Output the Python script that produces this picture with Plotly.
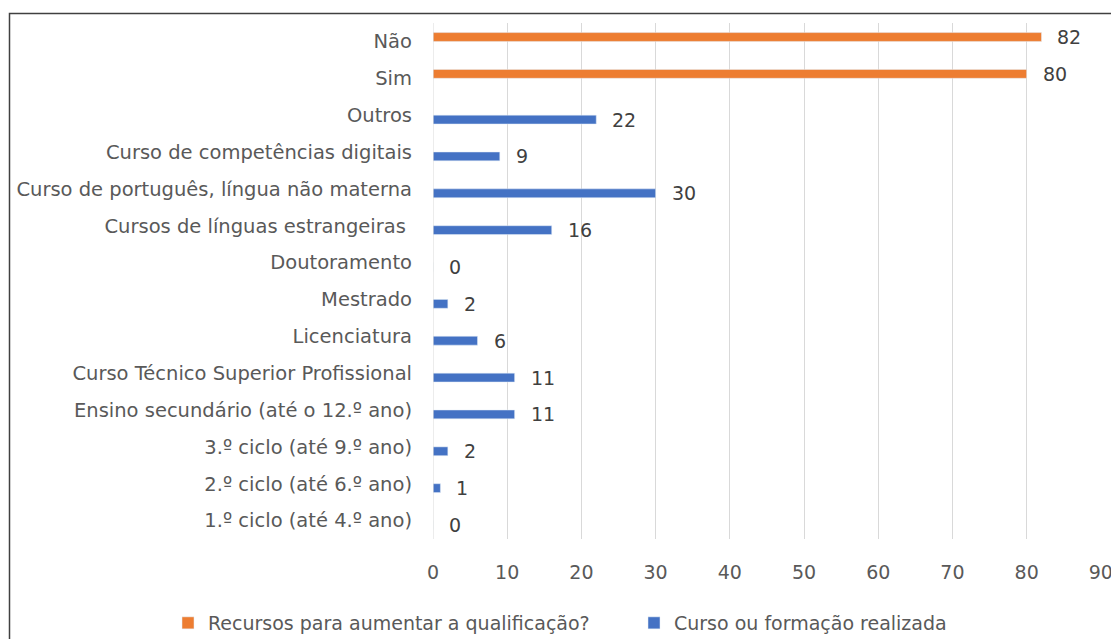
import plotly.graph_objects as go

# Categories listed bottom to top
categories = [
    "1.º ciclo (até 4.º ano)",
    "2.º ciclo (até 6.º ano)",
    "3.º ciclo (até 9.º ano)",
    "Ensino secundário (até o 12.º ano)",
    "Curso Técnico Superior Profissional",
    "Licenciatura",
    "Mestrado",
    "Doutoramento",
    "Cursos de línguas estrangeiras ",
    "Curso de português, língua não materna",
    "Curso de competências digitais",
    "Outros",
    "Sim",
    "Não",
]

curso_formacao = [0, 1, 2, 11, 11, 6, 2, 0, 16, 30, 9, 22, None, None]
recursos_qualificacao = [None] * 12 + [80, 82]

x_ticks = [0, 10, 20, 30, 40, 50, 60, 70, 80, 90]

ORANGE = "#ED7D31"
BLUE = "#4472C4"
FONT = "DejaVu Sans"
FS = 19
CAT_FS = 19.5
LABEL_COLOR = "#595959"

W, H = 1111, 639
ML, MR, MT, MB = 433, 10, 23, 100
BARGAP = 0.52

fig = go.Figure()
fig.add_trace(go.Bar(
    y=categories, x=curso_formacao, orientation="h",
    name="Curso ou formação realizada", marker_color=BLUE,
    legendrank=2,
))
fig.add_trace(go.Bar(
    y=categories, x=recursos_qualificacao, orientation="h",
    name="Recursos para aumentar a qualificação?", marker_color=ORANGE,
    legendrank=1,
))

# value labels next to each bar end, shifted to the bar's slot in the group
plot_h = H - MT - MB
slot_px = plot_h / len(categories)
bar_shift = slot_px * (1 - BARGAP) / 4
annotations = []
for series, dy in ((curso_formacao, -bar_shift), (recursos_qualificacao, bar_shift)):
    for cat, v in zip(categories, series):
        if v is None:
            continue
        annotations.append(dict(
            x=v, y=cat, xref="x", yref="y", text=str(v), showarrow=False,
            xanchor="left", yanchor="middle", xshift=14, yshift=dy,
            font=dict(family=FONT, size=FS, color="#404040"),
        ))

plot_w = W - ML - MR
fig.update_layout(
    width=W, height=H,
    margin=dict(l=ML, r=MR, t=MT, b=MB, pad=0, autoexpand=False),
    paper_bgcolor="white", plot_bgcolor="white",
    barmode="group", bargap=BARGAP, bargroupgap=0,
    font=dict(family=FONT, size=FS, color=LABEL_COLOR),
    xaxis=dict(
        range=[0, 90.02], tickvals=x_ticks, showgrid=True, gridcolor="#D9D9D9",
        gridwidth=1, zeroline=False, showline=False, ticks="",
        ticklabelstandoff=20, ticklabeloverflow="allow",
        tickfont=dict(family=FONT, size=FS, color=LABEL_COLOR),
        fixedrange=True, automargin=False,
    ),
    yaxis=dict(
        type="category", categoryorder="array", categoryarray=categories,
        showgrid=False, zeroline=False, showline=False, ticks="",
        ticklabelstandoff=20, tickfont=dict(family=FONT, size=CAT_FS, color=LABEL_COLOR),
        fixedrange=True, automargin=False,
    ),
    legend=dict(
        orientation="h", xanchor="left", yanchor="middle",
        xref="paper", yref="paper",
        x=(168 - ML) / plot_w, y=-(623 - (H - MB)) / plot_h,
        entrywidth=421, entrywidthmode="pixels",
        font=dict(family=FONT, size=FS, color=LABEL_COLOR),
        itemclick=False, itemdoubleclick=False,
    ),
    annotations=annotations,
    shapes=[
        # axis line at zero
        dict(type="line", xref="x", yref="paper", x0=0, x1=0, y0=0, y1=1,
             line=dict(color="#D9D9D9", width=1)),
        # chart frame
        dict(type="rect", xref="paper", yref="paper",
             x0=(9.5 - ML) / plot_w, x1=1.2,
             y0=-0.5, y1=1 + (MT - 13.5) / plot_h,
             line=dict(color="#404040", width=1.5), layer="above"),
    ],
    showlegend=True,
)

fig.write_html("out.html", config={"displayModeBar": False})
